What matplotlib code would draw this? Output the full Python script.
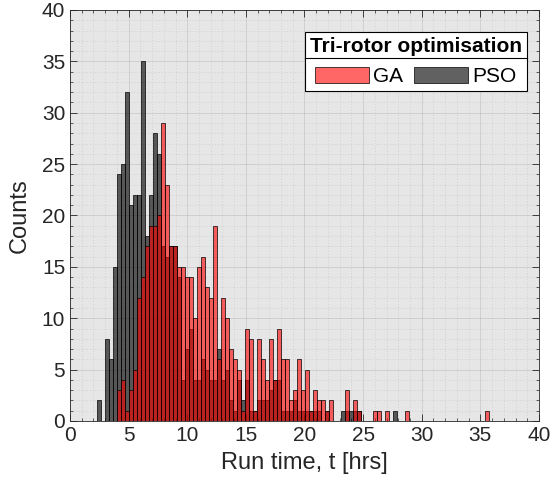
import numpy as np
import matplotlib
matplotlib.use('Agg')
import matplotlib.pyplot as plt
from matplotlib.patches import Patch
from matplotlib.lines import Line2D

# histogram bins (hours), both series share the same bin grid
bin_width = 0.341
pso_start = 2.33
ga_start = pso_start + 5 * bin_width

pso_counts = [2, 0, 8, 6, 15, 24, 25, 32, 21, 22, 22, 35, 18, 22, 28, 26,
              17, 16, 17, 17, 14, 4, 7, 9, 4, 4, 6, 5, 4, 4, 7, 4,
              5, 2, 1, 4, 2, 4, 1, 1, 2, 2, 2, 3, 4, 4, 1, 1,
              1, 2, 1, 1, 1, 1, 1, 1, 0, 1, 0, 0, 0, 1, 1, 1,
              1, 1, 0, 0, 0, 0, 0, 0, 0, 0, 1]
ga_counts = [3, 4, 1, 3, 5, 12, 14, 17, 19, 19, 20, 29, 23, 17, 17, 15,
             15, 14, 14, 10, 15, 16, 13, 12, 19, 6, 12, 10, 7, 6, 5, 1,
             9, 8, 1, 8, 6, 4, 8, 4, 9, 6, 6, 2, 3, 6, 3, 5,
             1, 3, 2, 2, 1, 2, 0, 0, 0, 3, 0, 2, 1, 0, 0, 0,
             1, 1, 0, 1, 0, 0, 0, 0, 1, 0, 0, 0, 0, 0, 0, 0,
             0, 0, 0, 0, 0, 0, 0, 0, 0, 0, 0, 0, 1]

series_names = ['GA', 'PSO']
legend_title = 'Tri-rotor optimisation'
x_label = 'Run time, t [hrs]'
y_label = 'Counts'

ga_face = (1.0, 0.0, 0.0, 0.6)
pso_face = (0.0, 0.0, 0.0, 0.62)
axis_grey = (0.15, 0.15, 0.15)

plt.rcParams['font.family'] = ['Liberation Sans', 'DejaVu Sans']

fig = plt.figure(figsize=(5.52, 4.83), dpi=100)
ax = fig.add_axes([0.1268, 0.1284, 0.8496, 0.8509])
ax.set_facecolor('#E6E6E6')

pso_edges = pso_start + bin_width * np.arange(len(pso_counts))
ga_edges = ga_start + bin_width * np.arange(len(ga_counts))
ax.bar(pso_edges, pso_counts, width=bin_width, align='edge',
       color=pso_face, edgecolor='k', linewidth=0.5)
ax.bar(ga_edges, ga_counts, width=bin_width, align='edge',
       color=ga_face, edgecolor='k', linewidth=0.5)

ax.set_xlim(0, 40)
ax.set_ylim(0, 40)
ax.set_xticks(np.arange(0, 41, 5))
ax.set_yticks(np.arange(0, 41, 5))
ax.set_xticks(np.arange(0, 41, 1), minor=True)
ax.set_yticks(np.arange(0, 41, 1), minor=True)
ax.tick_params(which='both', direction='in', top=True, right=True,
               colors=axis_grey, labelsize=15)
ax.tick_params(which='major', length=5, width=0.6)
ax.tick_params(which='minor', length=2.5, width=0.5)
for side in ax.spines.values():
    side.set_color(axis_grey)
    side.set_linewidth(0.6)

ax.set_axisbelow(True)
ax.grid(which='major', color=axis_grey, alpha=0.13, linewidth=0.6)
ax.grid(which='minor', color=axis_grey, alpha=0.2, linewidth=0.5, linestyle=(0, (1, 3)))

ax.set_xlabel(x_label, fontsize=17, color=axis_grey, labelpad=5)
ax.set_ylabel(y_label, fontsize=17, color=axis_grey, labelpad=8)

handles = [Patch(facecolor=ga_face, edgecolor='k', linewidth=0.5, label=series_names[0]),
           Patch(facecolor=pso_face, edgecolor='k', linewidth=0.5, label=series_names[1])]
leg = ax.legend(handles=handles, title=legend_title, ncol=2, loc='upper right',
                bbox_to_anchor=(0.9744, 0.9465), borderaxespad=0, fontsize=15,
                title_fontproperties={'weight': 'bold', 'size': 15},
                fancybox=False, edgecolor='k', framealpha=1,
                handlelength=2.6, handleheight=0.8, handletextpad=0.2,
                columnspacing=0.5, borderpad=0.25)
leg.get_frame().set_linewidth(0.8)

# line under the legend title
fig.canvas.draw()
box = leg.get_window_extent()
title_box = leg.get_title().get_window_extent()
to_fig = fig.transFigure.inverted()
(x0, y0), (x1, _) = to_fig.transform([(box.x0, title_box.y0 - 2), (box.x1, title_box.y0 - 2)])
fig.add_artist(Line2D([x0, x1], [y0, y0], transform=fig.transFigure, color='k', linewidth=0.8))

fig.savefig('out.png', dpi=100)
